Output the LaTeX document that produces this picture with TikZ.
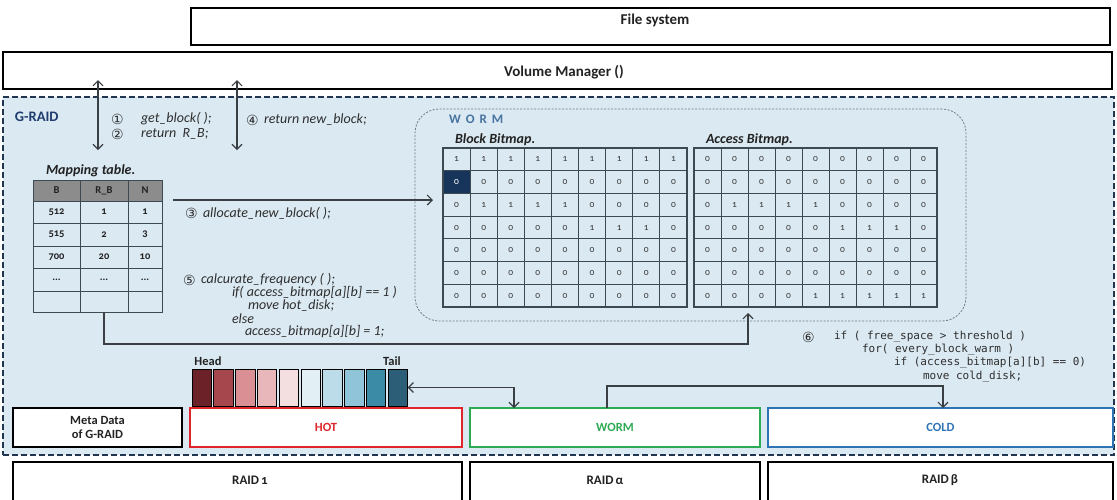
\documentclass[tikz,border=0pt]{standalone}
\usepackage{fontspec}
\setmainfont{Carlito}
\newfontfamily\osf{Carlito}[Numbers=OldStyle]
\newfontfamily\symfont{DejaVu Sans}
\newfontfamily\codemono{DejaVu Sans Mono}
\usetikzlibrary{arrows.meta,calc}
\newcommand\fsz[1]{\fontsize{#1}{#1}\selectfont}
\newcommand\tdots{...}
\definecolor{bgblue}{HTML}{DBE9F2}
\definecolor{navyd}{HTML}{1F3550}
\definecolor{gridc}{HTML}{3E4A52}
\definecolor{connc}{HTML}{3A3F44}
\definecolor{tabhead}{HTML}{8C8C8C}
\definecolor{selc}{HTML}{17355A}
\definecolor{codec}{HTML}{2E2E2E}
\definecolor{txtc}{HTML}{222222}
\definecolor{digc}{HTML}{3A3A3A}
\definecolor{wormttl}{HTML}{4673A0}
\definecolor{wormdash}{HTML}{6E7B85}
\definecolor{hotc}{HTML}{E0262B}
\definecolor{wormc}{HTML}{2DAA54}
\definecolor{coldc}{HTML}{2E74B5}
\definecolor{graidtxt}{HTML}{1F3C6E}
\definecolor{qa}{HTML}{6B2127}
\definecolor{qb}{HTML}{A6474D}
\definecolor{qc}{HTML}{D98F93}
\definecolor{qd}{HTML}{E8B7BA}
\definecolor{qe}{HTML}{F3DEE0}
\definecolor{qf}{HTML}{E2F0F5}
\definecolor{qg}{HTML}{BBDCE8}
\definecolor{qh}{HTML}{8FC4D9}
\definecolor{qi}{HTML}{3B8BA7}
\definecolor{qj}{HTML}{2D5E77}
\begin{document}
\begin{tikzpicture}[x=1pt,y=-1pt,
  every node/.style={inner sep=0pt, outer sep=0pt},
  >={Straight Barb[length=5pt,width=10pt]},
  layer/.style={draw=black, line width=1.8pt, fill=white, anchor=north west},
  ttl/.style={font=\bfseries\fsz{15}, text=txtc},
  code/.style={font=\itshape\fsz{14}, text=codec, anchor=west},
  num/.style={font=\symfont\fsz{14}, text=codec, anchor=west},
  mono/.style={font=\codemono\fsz{11}, text=codec, anchor=west},
  lbl/.style={font=\bfseries\itshape\fsz{14}, text=txtc, anchor=west},
  conn/.style={draw=connc, line width=1.1pt},
  graidbox/.style={draw=navyd, fill=bgblue, line width=2pt, dash pattern=on 6pt off 3pt, anchor=north west},
  wormbox/.style={draw=wormdash, line width=0.8pt, dash pattern=on 2pt off 1.5pt, rounded corners=24pt, anchor=north west},
  tcell/.style={draw=gridc, line width=0.9pt, font=\osf\bfseries\fsz{10.5}, text=txtc},
  trow-1/.style={fill=tabhead},
  bcell/.style={draw=gridc, line width=0.9pt, minimum width=27.111pt, minimum height=22.714pt, font=\osf\fsz{9.5}, text=digc},
  acell/.style={draw=gridc, line width=0.9pt, minimum width=27pt, minimum height=22.714pt, font=\osf\fsz{9.5}, text=digc},
  bsel-2-1/.style={fill=selc, text=white},
  frame/.style={draw=gridc, line width=1.2pt, anchor=north west},
  qbox/.style={draw=black, line width=0.9pt, minimum width=19.5pt, minimum height=37pt},
  disk/.style={line width=1.8pt, fill=white, anchor=north west, font=\bfseries\fsz{12.5}},
  raidbox/.style={draw=black, line width=1.8pt, fill=white, anchor=north west},
  raidtxt/.style={font=\osf\bfseries\fsz{13}, text=txtc}
]
\useasboundingbox (0,0) rectangle (1117,499);

% G-RAID region
\node[graidbox, minimum width=1111pt, minimum height=358pt] (graid) at (3,97) {};
\node[font=\bfseries\fsz{14.5}, text=graidtxt, anchor=west] (graidl) at (15,117) {G-RAID};

% upper layers
\node[layer, minimum width=919pt, minimum height=37pt] (fs) at (191,8) {};
\node[ttl] (fst) at (655,20) {File system};
\node[layer, minimum width=1109pt, minimum height=37pt] (vm) at (3,52) {};
\node[ttl] (vmt) at (564,72) {Volume Manager ()};

% arrows between volume manager and mapping table
\coordinate (a1t) at (98,80);  \coordinate (a1b) at (98,150);
\coordinate (a2t) at (237,80); \coordinate (a2b) at (237,150);
\draw[conn,<->] (a1t) -- (a1b);
\draw[conn,<->] (a2t) -- (a2b);
\node[num] (n1) at (111,119) {①};
\node[code] (c1) at (141,119) {get\_block( );};
\node[num] (n2) at (111,134) {②};
\node[code] (c2) at (141,134) {return\ \ R\_B;};
\node[num] (n4) at (246,120) {④};
\node[code] (c4) at (264,120) {return new\_block;};

% mapping table
\node[lbl] (mtl) at (46,171) {Mapping table.};
\foreach \yc/\hh/\va/\vb/\vc [count=\r] in {190.5/21/B/R\_B/N, 212/22/512/1/1, 234.5/23/515/2/3, 257/22/700/20/10, 279.5/23/\tdots/\tdots/\tdots, 301.5/21/{}/{}/{}}{
  \node[tcell, trow-\r/.try, minimum width=47pt, minimum height=\hh pt] (tb-\r-1) at (56.5,\yc) {\va};
  \node[tcell, trow-\r/.try, minimum width=48pt, minimum height=\hh pt] (tb-\r-2) at (104,\yc) {\vb};
  \node[tcell, trow-\r/.try, minimum width=34pt, minimum height=\hh pt] (tb-\r-3) at (145,\yc) {\vc};
}

% WORM area
\node[wormbox, minimum width=551pt, minimum height=212pt] (wormarea) at (415,109) {};
\node[font=\bfseries\fsz{13}, text=wormttl, anchor=west] (wt) at (449,119) {W\hspace{5pt}O\hspace{5pt}R\hspace{5pt}M};
\node[lbl] (bbl) at (455,140) {Block Bitmap.};
\node[lbl] (abl) at (706,140) {Access Bitmap.};

\foreach \rowvals [count=\r] in {{1,1,1,1,1,1,1,1,1},{0,0,0,0,0,0,0,0,0},{0,1,1,1,1,0,0,0,0},{0,0,0,0,0,1,1,1,0},{0,0,0,0,0,0,0,0,0},{0,0,0,0,0,0,0,0,0},{0,0,0,0,0,0,0,0,0}}{
  \foreach \v [count=\c] in \rowvals {
    \node[bcell, bsel-\r-\c/.try] (bb-\r-\c) at ({443+27.111*(\c-0.5)},{148+22.714*(\r-0.5)}) {\v};
  }
}
\foreach \rowvals [count=\r] in {{0,0,0,0,0,0,0,0,0},{0,0,0,0,0,0,0,0,0},{0,1,1,1,1,0,0,0,0},{0,0,0,0,0,1,1,1,0},{0,0,0,0,0,0,0,0,0},{0,0,0,0,0,0,0,0,0},{0,0,0,0,1,1,1,1,1}}{
  \foreach \v [count=\c] in \rowvals {
    \node[acell] (ab-\r-\c) at ({694+27*(\c-0.5)},{148+22.714*(\r-0.5)}) {\v};
  }
}
\node[frame, minimum width=244pt, minimum height=159pt] (bbm) at (443,148) {};
\node[frame, minimum width=243pt, minimum height=159pt] (abm) at (694,148) {};

% allocate arrow
\coordinate (a3s) at (173,200);
\draw[conn,->,shorten >=10pt] (a3s) -- (a3s -| bbm.west);
\node[num] (n3) at (185,213) {③};
\node[code] (c3) at (203,213) {allocate\_new\_block( );};

% frequency code
\node[num] (n5) at (183,280) {⑤};
\node[code] (c5a) at (201,280) {calcurate\_frequency ( );};
\node[code] (c5b) at (232,293) {if( access\_bitmap[a][b] == 1 )};
\node[code] (c5c) at (248,306) {move hot\_disk;};
\node[code] (c5d) at (232,319) {else};
\node[code] (c5e) at (245,332) {access\_bitmap[a][b] = 1;};

% loop from table to access bitmap
\coordinate (lpS) at (104,312);
\coordinate (lpE) at (748,313);
\draw[conn,->] (lpS) -- ++(0,32) -| (lpE);

% queue
\foreach \col [count=\i] in {qa,qb,qc,qd,qe,qf,qg,qh,qi,qj}{
  \node[qbox, fill=\col] (q\i) at ({201.75+21.8*(\i-1)},387.5) {};
}
\node[font=\bfseries\fsz{12.5}, text=txtc] (head) at (208,361) {Head};
\node[font=\bfseries\fsz{12.5}, text=txtc] (tail) at (392,361) {Tail};

% code 6
\node[num] (n6) at (802,337) {⑥};
\node[mono] (m1) at (834,337) {if ( free\_space > threshold )};
\node[mono] (m2) at (862,350) {for( every\_block\_warm )};
\node[mono] (m3) at (894,363) {if (access\_bitmap[a][b] == 0)};
\node[mono] (m4) at (923,377) {move cold\_disk;};

% disks
\node[disk, draw=black, text=txtc, align=center, minimum width=169pt, minimum height=39pt] (meta) at (13,408) {Meta Data\\[1pt]of G-RAID};
\node[disk, draw=hotc, text=hotc, minimum width=272pt, minimum height=39pt] (hot) at (190,408) {HOT};
\node[disk, draw=wormc, text=wormc, minimum width=290pt, minimum height=39pt] (wormd) at (470,408) {WORM};
\node[disk, draw=coldc, text=coldc, minimum width=345pt, minimum height=39pt] (cold) at (768,408) {COLD};

% queue <-> worm, worm -> cold
\coordinate (qw) at (514,408);
\draw[conn,<->] (q10.east) -| (qw);
\coordinate (wc1) at (607,408);
\coordinate (wc2) at (943,408);
\draw[conn,->] (wc1) -- (607,386) -| (wc2);

% RAID boxes
\node[raidbox, minimum width=449pt, minimum height=42pt] (r1) at (13,462) {};
\node[raidbox, minimum width=290pt, minimum height=42pt] (ra) at (470,462) {};
\node[raidbox, minimum width=345pt, minimum height=42pt] (rb) at (768,462) {};
\node[raidtxt] (r1t) at (250,480) {RAID\,1};
\node[raidtxt] (rat) at (605,480) {RAID\,α};
\node[raidtxt] (rbt) at (940,480) {RAID\,β};
\end{tikzpicture}
\end{document}
